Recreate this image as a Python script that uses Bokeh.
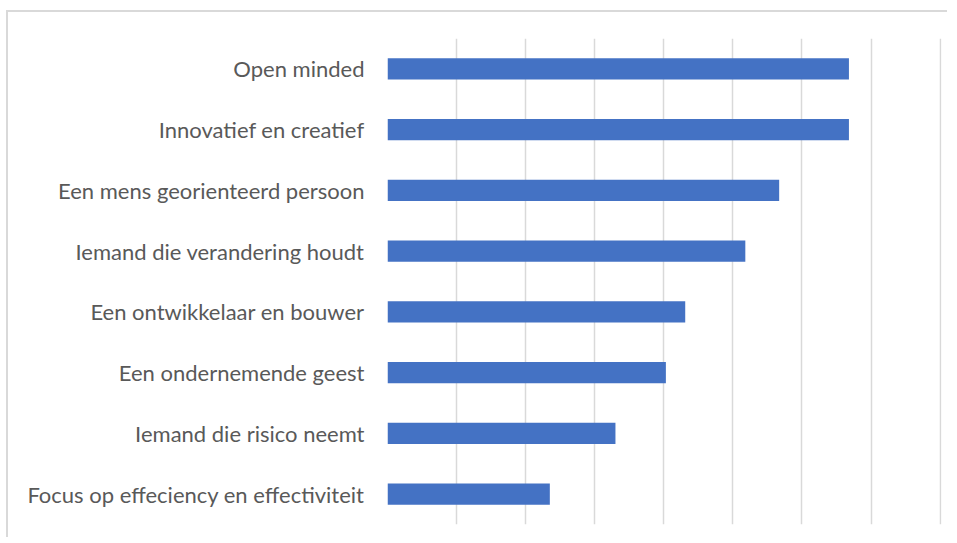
from bokeh.plotting import figure
from bokeh.models import FactorRange, Range1d, FixedTicker
from bokeh.embed import file_html
from bokeh.resources import INLINE

categories = [
    "Open minded",
    "Innovatief en creatief",
    "Een mens georienteerd persoon",
    "Iemand die verandering houdt",
    "Een ontwikkelaar en bouwer",
    "Een ondernemende geest",
    "Iemand die risico neemt",
    "Focus op effeciency en effectiviteit",
]
values = [6.68, 6.68, 5.67, 5.18, 4.31, 4.03, 3.30, 2.35]
grid_ticks = [0, 1, 2, 3, 4, 5, 6, 7, 8]

factors = list(reversed(categories))

p = figure(
    width=941, height=527,
    y_range=FactorRange(factors=factors),
    x_range=Range1d(0, 8.02),
    output_backend="svg", toolbar_location=None,
    min_border_left=379, min_border_top=26, min_border_right=8, min_border_bottom=15,
)
p.styles = {
    "border-top": "2px solid #d9d9d9",
    "border-left": "2px solid #d9d9d9",
    "margin-top": "10px",
    "margin-left": "6px",
}

p.hbar(y=categories, right=values, left=0, height=0.35,
       fill_color="#4472C4", line_color=None)

p.outline_line_color = None
p.background_fill_color = "white"
p.border_fill_color = "white"

p.xaxis.visible = False
p.xgrid.ticker = FixedTicker(ticks=grid_ticks)
p.xgrid.grid_line_color = "#d9d9d9"
p.xgrid.grid_line_width = 1.5
p.ygrid.grid_line_color = None

ax = p.yaxis[0]
ax.axis_line_color = None
ax.major_tick_line_color = None
ax.minor_tick_line_color = None
ax.major_tick_in = 0
ax.major_tick_out = 0
ax.major_label_standoff = 23
ax.major_label_text_font = "Lato"
ax.major_label_text_font_size = "22px"
ax.major_label_text_color = "#595959"

open("out.html", "w").write(file_html(p, INLINE))
